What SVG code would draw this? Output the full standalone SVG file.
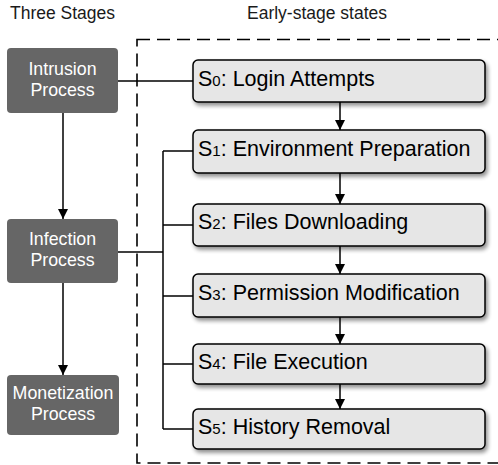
<svg xmlns="http://www.w3.org/2000/svg" width="498" height="465" viewBox="0 0 498 465">
<defs>
<filter id="sh" x="-10%" y="-20%" width="130%" height="160%">
<feGaussianBlur in="SourceAlpha" stdDeviation="2"/>
<feOffset dx="2" dy="3" result="b"/>
<feComponentTransfer><feFuncA type="linear" slope="0.45"/></feComponentTransfer>
<feMerge><feMergeNode/><feMergeNode in="SourceGraphic"/></feMerge>
</filter>
<marker id="ah" viewBox="0 0 10 10" refX="10" refY="5" markerWidth="10" markerHeight="10" markerUnits="userSpaceOnUse" orient="auto">
<path d="M0,0 L10,5 L0,10 z" fill="#000"/>
</marker>
</defs>
<style>
.hdr{font-family:"Liberation Sans",Arial,sans-serif;font-size:17.5px;fill:#1a1a1a}
.stage rect{fill:#666666}
.stage text{font-family:"Liberation Sans",Arial,sans-serif;font-size:17.8px;fill:#ffffff;text-anchor:middle}
.state rect{fill:#e6e6e6;stroke:#000;stroke-width:1.5}
.state text{font-family:"Liberation Sans",Arial,sans-serif;font-size:21.5px;fill:#000}
.sub{font-size:15px}
.ln{stroke:#000;stroke-width:1.5;fill:none}
.ar{stroke:#000;stroke-width:1.5;fill:none;marker-end:url(#ah)}
</style>
<rect width="498" height="465" fill="#ffffff"/>
<text class="hdr" x="10" y="19">Three Stages</text>
<text class="hdr" x="247" y="19">Early-stage states</text>
<rect x="137" y="39.5" width="380" height="423.5" fill="none" stroke="#000" stroke-width="1.6" stroke-dasharray="13 7"/>
<g id="connectors">
<line class="ln" x1="118" y1="81" x2="193" y2="81"/>
<line class="ar" x1="63" y1="113" x2="63" y2="219"/>
<line class="ar" x1="63" y1="283" x2="63" y2="375"/>
<line class="ln" x1="118" y1="252" x2="163" y2="252"/>
<line class="ln" x1="163" y1="151" x2="163" y2="429"/>
<line class="ln" x1="163" y1="151" x2="193" y2="151"/>
<line class="ln" x1="163" y1="225" x2="193" y2="225"/>
<line class="ln" x1="163" y1="296" x2="193" y2="296"/>
<line class="ln" x1="163" y1="364" x2="193" y2="364"/>
<line class="ln" x1="163" y1="429" x2="193" y2="429"/>
<line class="ar" x1="340" y1="102" x2="340" y2="130"/>
<line class="ar" x1="340" y1="173" x2="340" y2="204"/>
<line class="ar" x1="340" y1="246" x2="340" y2="274"/>
<line class="ar" x1="340" y1="317" x2="340" y2="344"/>
<line class="ar" x1="340" y1="384" x2="340" y2="409"/>
</g>
<g id="intrusion" class="stage"><rect x="7" y="48" width="111" height="65" rx="4"/><text x="62.5" y="74.5">Intrusion</text><text x="62.5" y="95.5">Process</text></g>
<g id="infection" class="stage"><rect x="7" y="219" width="111" height="64" rx="4"/><text x="62.5" y="245">Infection</text><text x="62.5" y="266">Process</text></g>
<g id="monetization" class="stage"><rect x="7" y="375" width="112" height="60" rx="4"/><text x="63" y="399">Monetization</text><text x="63" y="420">Process</text></g>
<g id="s0" class="state"><rect x="193" y="60" width="292" height="42" rx="5" filter="url(#sh)"/><text x="198" y="85.5">S<tspan class="sub">0</tspan>: Login Attempts</text></g>
<g id="s1" class="state"><rect x="193" y="130" width="292" height="43" rx="5" filter="url(#sh)"/><text x="198" y="156">S<tspan class="sub">1</tspan>: Environment Preparation</text></g>
<g id="s2" class="state"><rect x="193" y="204" width="292" height="42" rx="5" filter="url(#sh)"/><text x="198" y="229">S<tspan class="sub">2</tspan>: Files Downloading</text></g>
<g id="s3" class="state"><rect x="193" y="274" width="292" height="43" rx="5" filter="url(#sh)"/><text x="198" y="299.5">S<tspan class="sub">3</tspan>: Permission Modification</text></g>
<g id="s4" class="state"><rect x="193" y="344" width="292" height="40" rx="5" filter="url(#sh)"/><text x="198" y="368.5">S<tspan class="sub">4</tspan>: File Execution</text></g>
<g id="s5" class="state"><rect x="193" y="409" width="292" height="40" rx="5" filter="url(#sh)"/><text x="198" y="433.5">S<tspan class="sub">5</tspan>: History Removal</text></g>
</svg>
